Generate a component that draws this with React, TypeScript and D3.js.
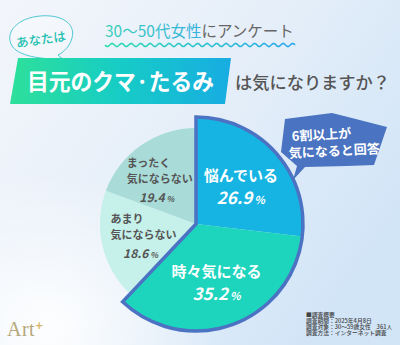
import React from "react";
import * as d3 from "d3";

const categories = ["悩んでいる", "時々気になる", "あまり気にならない", "まったく気にならない"];
const values = [26.9, 35.2, 18.6, 19.4];
const labelLines = [["悩んでいる"], ["時々気になる"], ["あまり", "気にならない"], ["まったく", "気にならない"]];
const highlighted = [true, true, false, false];
const surveyLines = ["■調査概要", "調査期間：2025年4月8日", "調査対象：30〜59歳女性　361人", "調査方法：インターネット調査"];

const W = 400, H = 345;
const cx = 196, cy = 224;
const rBig = 107, rSmall = 96;
const colors = ["#15b4e2", "#1dd4bd", "#c6f0ea", "#a9dcd8"];
const FONT = "'Noto Sans CJK JP', 'Noto Sans', sans-serif";

export default function App() {
  const pie = d3.pie<number>().sort(null).value((d) => d)(values);
  const arcBig = d3.arc<d3.PieArcDatum<number>>().innerRadius(0).outerRadius(rBig);
  const arcSmall = d3.arc<d3.PieArcDatum<number>>().innerRadius(0).outerRadius(rSmall);
  const hiEnd = pie[1].endAngle;
  const outline = d3.arc()({ innerRadius: 0, outerRadius: rBig, startAngle: 0, endAngle: hiEnd } as any) as string;

  const wavePts: [number, number][] = d3.range(0, 191, 1).map((i) => [105 + i, 45 + 1.6 * Math.sin((i / 9.5) * Math.PI * 2)]);
  const wave = d3.line()(wavePts) as string;

  const labelR = [60, 60, 57, 52];
  const labelDx = [0, 0, 0, -9.5];

  return (
    <div style={{ position: "fixed", left: 0, top: 0 }}>
      <svg width={W} height={H} style={{ display: "block" }} fontFamily={FONT}>
        <defs>
          <linearGradient id="bg" x1="0" y1="0" x2="1" y2="0.6">
            <stop offset="0" stopColor="#f3f6fb" />
            <stop offset="0.5" stopColor="#e6eff9" />
            <stop offset="1" stopColor="#d2e5f7" />
          </linearGradient>
          <radialGradient id="glow" cx="0.12" cy="0.95" r="0.45">
            <stop offset="0" stopColor="#ffffff" stopOpacity="0.95" />
            <stop offset="1" stopColor="#ffffff" stopOpacity="0" />
          </radialGradient>
          <linearGradient id="banner" x1="0" y1="0" x2="1" y2="0">
            <stop offset="0" stopColor="#2ee09a" />
            <stop offset="0.5" stopColor="#16ccc6" />
            <stop offset="1" stopColor="#17ace2" />
          </linearGradient>
          <linearGradient id="wave" x1="0" y1="0" x2="1" y2="0">
            <stop offset="0" stopColor="#2fdcb0" />
            <stop offset="1" stopColor="#2aa8ec" />
          </linearGradient>
          <linearGradient id="ttl" x1="105" y1="0" x2="205" y2="0" gradientUnits="userSpaceOnUse">
            <stop offset="0" stopColor="#3ccfb9" />
            <stop offset="1" stopColor="#35b0e0" />
          </linearGradient>
        </defs>
        <rect width={W} height={H} fill="url(#bg)" />
        <rect width={W} height={H} fill="url(#glow)" />

        {/* speech bubble */}
        <path
          d="M62,58 C50,60 20,58 12,46 C4,32 18,18 40,16 C62,14 76,24 72,38 C70,46 64,52 58,55 C62,58 64,62 66,64 C62,62 60,60 62,58 Z"
          fill="#ffffff"
          fillOpacity={0.25}
          stroke="#4fc9d4"
          strokeWidth={1}
        />
        <text x={41} y={44} fill="#22bfb0" fontSize={12.5} fontWeight={500} textAnchor="middle" transform="rotate(-8 41 40)">
          あなたは
        </text>

        {/* header */}
        <text x={105} y={37} fontSize={15.5} fontWeight={400}>
          <tspan fill="url(#ttl)">30〜50代女性</tspan>
          <tspan fill="#666">にアンケート</tspan>
        </text>
        <path d={wave} fill="none" stroke="url(#wave)" strokeWidth={1.6} />

        <polygon points="18,58 231,58 225,104 10,104" fill="url(#banner)" />
        <text x={27} y={90} fill="#fff" fontSize={22.5} fontWeight={700} textLength={187} lengthAdjust="spacingAndGlyphs">
          目元のクマ·たるみ
        </text>
        <text x={235} y={89} fill="#555" fontSize={17} fontWeight={500} textLength={155} lengthAdjust="spacingAndGlyphs">
          は気になりますか？
        </text>

        {/* pie */}
        <g transform={`translate(${cx},${cy})`}>
          {pie.map((d, i) => (
            <path key={categories[i]} d={(highlighted[i] ? arcBig : arcSmall)(d) as string} fill={colors[i]} />
          ))}
          <path d={outline} fill="none" stroke="#4b72c3" strokeWidth={3.5} strokeLinejoin="miter" />
          {pie.map((d, i) => {
            const r = labelR[i];
            const a = (d.startAngle + d.endAngle) / 2;
            const x = r * Math.sin(a) + labelDx[i];
            const y = -r * Math.cos(a);
            const hi = highlighted[i];
            const fs = hi ? 15 : 11;
            const lh = hi ? 0 : 15.5;
            const lines = labelLines[i];
            const col = hi ? "#ffffff" : "#555555";
            const y0 = hi ? y - 3 : y - 14;
            return (
              <g key={"l" + i}>
                {lines.map((t, j) => (
                  <text
                    key={j}
                    x={hi ? x : x - 30}
                    y={y0 + j * lh}
                    textAnchor={hi ? "middle" : "start"}
                    fontSize={fs}
                    fontWeight={700}
                    fill={col}
                  >
                    {t}
                  </text>
                ))}
                <text
                  x={x}
                  y={y0 + (lines.length - 1) * lh + (hi ? 23 : 19)}
                  textAnchor="middle"
                  fill={col}
                  fontWeight={700}
                  fontStyle="italic"
                >
                  <tspan fontSize={hi ? 17 : 12}>{values[i].toFixed(1)}</tspan>
                  <tspan fontSize={hi ? 11 : 8} dx={2}>%</tspan>
                </text>
              </g>
            );
          })}
        </g>

        {/* callout */}
        <polygon
          points="285,119 332,113 344,116 387,127 374,165 347,166 305,167 293,180 297,166 281,152"
          fill="#4a73c1"
        />
        <text x={292} y={141} fill="#fff" fontSize={13} fontWeight={700} transform="rotate(-3 292 141)">
          6割以上が
        </text>
        <text x={289} y={158} fill="#fff" fontSize={13} fontWeight={700} transform="rotate(-3 289 158)">
          気になると回答
        </text>

        {/* survey info */}
        <g transform="translate(306,317) scale(0.5)">
          {surveyLines.map((t, i) => (
            <text key={i} x={0} y={i * 12} fontSize={11.5} fill="#444" fontWeight={500}>
              {t}
            </text>
          ))}
        </g>

        {/* logo */}
        <text x={7} y={336} fontFamily="'Liberation Serif', 'DejaVu Serif', serif" fontSize={20} fill="#b5a87c" letterSpacing={0.5}>
          Art
        </text>
        <text x={35} y={329} fontFamily="'DejaVu Sans', sans-serif" fontSize={10} fontWeight={700} fill="#d8b45c">
          +
        </text>
      </svg>
    </div>
  );
}
